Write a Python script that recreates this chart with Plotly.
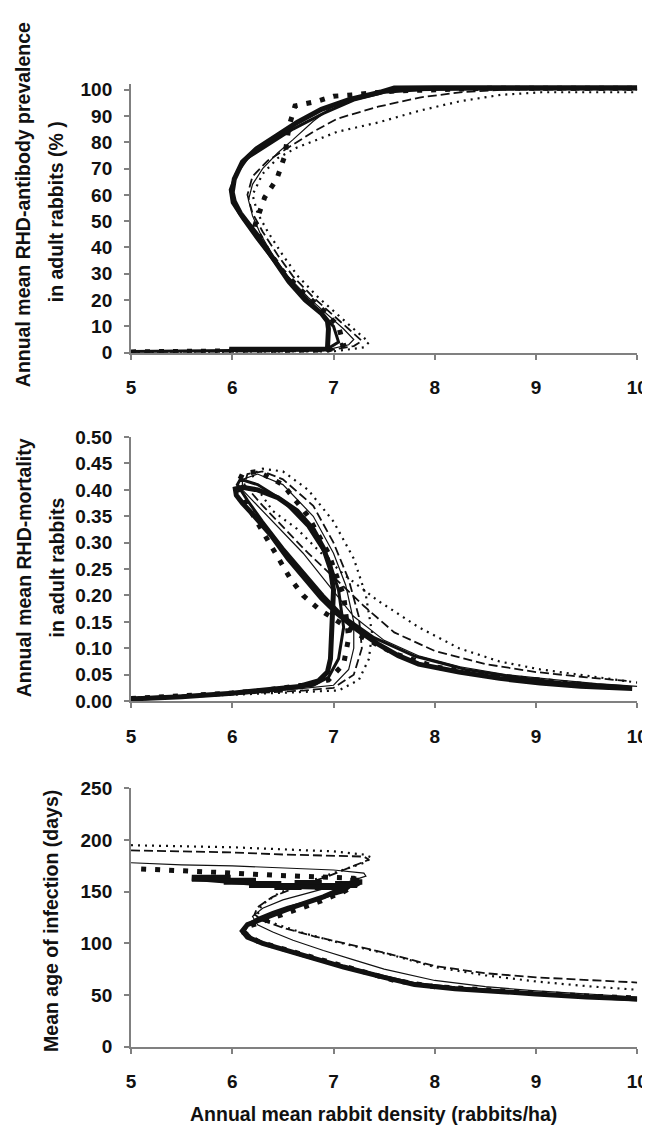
import plotly.graph_objects as go

# ---------------- Panel 1: RHD-antibody prevalence (%) ----------------
p1_thick_x = [5.97, 6.3, 6.6, 6.94, 6.95, 6.94, 6.88, 6.72, 6.56, 6.40, 6.24, 6.08, 6.02, 6.00, 6.02, 6.10, 6.24, 6.44, 6.64, 6.88, 7.16, 7.44, 7.60, 8.0, 9.0, 10.0]
p1_thick_y = [1.3, 1.4, 1.4, 1.4, 9, 12, 15, 20, 27, 36, 45, 53, 57.5, 61, 66, 72.5, 77.5, 82.5, 87.5, 92.5, 96.3, 98.8, 100.6, 100.7, 100.7, 100.7]
p1_thin_x = [5.0, 6.0, 6.9, 7.15, 7.2, 7.1, 6.95, 6.75, 6.55, 6.4, 6.28, 6.2, 6.16, 6.2, 6.3, 6.45, 6.6, 6.8, 7.0, 7.3, 7.6, 8.5, 10.0]
p1_thin_y = [0.3, 0.5, 0.8, 3, 5, 9, 14, 21, 29, 37, 45, 52, 58, 64, 70, 76, 81, 88, 94, 98, 99.5, 100, 100]
p1_dash_x = [5.0, 6.0, 6.9, 7.2, 7.28, 7.15, 7.0, 6.8, 6.6, 6.45, 6.3, 6.2, 6.15, 6.2, 6.35, 6.55, 6.8, 7.04, 7.44, 7.85, 8.25, 8.7, 10.0]
p1_dash_y = [0.2, 0.4, 0.5, 2.5, 4.5, 9, 14, 21, 29, 37, 46, 53, 60, 67, 73, 78, 84, 89, 93.5, 97, 99, 100, 100]
p1_dot_x = [5.0, 6.0, 7.0, 7.3, 7.35, 7.2, 7.05, 6.85, 6.65, 6.5, 6.35, 6.25, 6.2, 6.3, 6.45, 6.64, 7.04, 7.44, 7.85, 8.25, 8.65, 9.05, 10.0]
p1_dot_y = [0.2, 0.3, 0.5, 2, 4, 9, 14, 21, 29, 37, 46, 53, 60, 68, 74, 78, 84, 87.5, 92, 95.6, 98, 99, 99]
p1_sq_x = [5.0, 5.5, 6.0, 6.5, 6.95, 7.1, 7.05, 6.9, 6.7, 6.5, 6.35, 6.22, 6.32, 6.44, 6.52, 6.56, 6.62, 6.84, 7.0, 7.18, 7.6, 8.5, 10.0]
p1_sq_y = [0.3, 0.4, 0.5, 0.7, 1.0, 3, 10, 16, 23, 31, 39, 48, 59, 66, 75, 86, 93.8, 95.6, 97.5, 98, 99.5, 100.5, 100.5]
p1_med_x = [5.0, 6.0, 6.93, 7.05, 7.0, 6.85, 6.65, 6.45, 6.25, 6.1, 6.0, 5.98, 6.04, 6.15, 6.35, 6.6, 6.9, 7.2, 7.5, 8.0, 10.0]
p1_med_y = [0.4, 0.8, 1.2, 4, 10, 16, 24, 33, 43, 51, 57, 62, 68, 74, 79, 85, 91, 96, 99, 100.3, 100.3]

# ---------------- Panel 2: RHD-mortality ----------------
p2_thick_x = [5.0, 5.5, 6.0, 6.4, 6.64, 6.85, 6.94, 6.97, 6.98, 6.99, 7.0, 6.97, 6.9, 6.8, 6.64, 6.45, 6.25, 6.1, 6.03, 6.04, 6.1, 6.22, 6.38, 6.55, 6.72, 6.88, 7.04, 7.24, 7.44, 7.64, 7.84, 8.24, 8.64, 9.04, 9.44, 9.84, 9.95]
p2_thick_y = [0.004, 0.008, 0.015, 0.022, 0.027, 0.038, 0.055, 0.08, 0.12, 0.17, 0.21, 0.25, 0.29, 0.325, 0.36, 0.385, 0.40, 0.405, 0.402, 0.39, 0.375, 0.35, 0.315, 0.27, 0.23, 0.195, 0.165, 0.134, 0.108, 0.086, 0.07, 0.055, 0.043, 0.034, 0.028, 0.024, 0.024]
p2_thin_x = [5.0, 6.0, 6.7, 7.0, 7.15, 7.2, 7.2, 7.12, 7.0, 6.8, 6.5, 6.25, 6.1, 6.1, 6.25, 6.45, 6.7, 6.95, 7.2, 7.5, 7.85, 8.25, 8.7, 9.2, 9.6, 10.0]
p2_thin_y = [0.005, 0.014, 0.024, 0.03, 0.06, 0.1, 0.15, 0.22, 0.28, 0.35, 0.41, 0.43, 0.42, 0.40, 0.37, 0.33, 0.28, 0.22, 0.16, 0.115, 0.085, 0.065, 0.05, 0.04, 0.033, 0.028]
p2_dash_x = [5.0, 6.0, 6.7, 7.0, 7.2, 7.28, 7.25, 7.15, 7.0, 6.8, 6.5, 6.3, 6.15, 6.12, 6.3, 6.5, 6.75, 7.0, 7.3, 7.6, 8.0, 8.5, 9.0, 9.5, 9.9]
p2_dash_y = [0.006, 0.013, 0.02, 0.025, 0.05, 0.1, 0.16, 0.23, 0.30, 0.37, 0.42, 0.435, 0.43, 0.41, 0.37, 0.33, 0.28, 0.235, 0.18, 0.13, 0.095, 0.07, 0.055, 0.045, 0.038]
p2_dot_x = [5.0, 6.0, 7.05, 7.25, 7.35, 7.38, 7.32, 7.2, 7.0, 6.75, 6.5, 6.3, 6.2, 6.22, 6.4, 6.64, 6.88, 7.1, 7.44, 7.84, 8.24, 8.64, 9.04, 9.44, 10.0]
p2_dot_y = [0.006, 0.012, 0.02, 0.04, 0.08, 0.13, 0.20, 0.27, 0.34, 0.40, 0.435, 0.44, 0.43, 0.41, 0.36, 0.326, 0.28, 0.24, 0.19, 0.14, 0.10, 0.075, 0.06, 0.05, 0.035]
p2_sq_x = [5.0, 5.4, 5.9, 6.3, 6.7, 6.95, 7.1, 7.15, 7.1, 6.95, 6.75, 6.5, 6.25, 6.1, 6.05, 6.15, 6.3, 6.45, 6.58, 6.7, 6.85, 7.05, 7.3, 7.6, 8.0, 8.5, 9.0, 9.5, 9.8]
p2_sq_y = [0.005, 0.008, 0.014, 0.02, 0.03, 0.04, 0.07, 0.12, 0.20, 0.28, 0.35, 0.41, 0.435, 0.43, 0.41, 0.37, 0.32, 0.27, 0.23, 0.20, 0.175, 0.15, 0.12, 0.09, 0.065, 0.05, 0.04, 0.03, 0.025]
p2_med_x = [5.0, 5.8, 6.4, 6.8, 6.95, 7.05, 7.1, 7.05, 6.95, 6.75, 6.5, 6.25, 6.08, 6.05, 6.15, 6.3, 6.5, 6.7, 6.9, 7.1, 7.4, 7.8, 8.3, 8.8, 9.3, 9.9]
p2_med_y = [0.005, 0.012, 0.02, 0.03, 0.045, 0.08, 0.14, 0.21, 0.27, 0.33, 0.38, 0.41, 0.42, 0.41, 0.38, 0.34, 0.29, 0.245, 0.2, 0.16, 0.12, 0.085, 0.06, 0.045, 0.034, 0.027]

# ---------------- Panel 3: Mean age of infection (days) ----------------
p3_thick_x = [5.6, 6.2, 6.6, 7.0, 7.2, 7.25, 7.1, 6.9, 6.6, 6.35, 6.15, 6.1, 6.15, 6.3, 6.5, 6.8, 7.1, 7.5, 7.8, 8.2, 8.6, 9.0, 9.5, 10.0]
p3_thick_y = [163, 158, 155, 154, 157, 160, 153, 145, 135, 125, 118, 112, 106, 100, 94, 85, 77, 67, 60, 56, 54, 51, 48, 46]
p3_thin_x = [5.0, 5.5, 6.0, 6.5, 7.0, 7.3, 7.32, 7.1, 6.8, 6.5, 6.3, 6.2, 6.25, 6.4, 6.6, 6.9, 7.2, 7.5, 8.0, 8.5, 9.0, 9.5, 10.0]
p3_thin_y = [178, 176, 175, 173, 171, 168, 165, 158, 150, 142, 134, 126, 118, 111, 103, 93, 84, 75, 64, 58, 54, 51, 48]
p3_dash_x = [5.0, 5.5, 6.0, 6.5, 7.0, 7.3, 7.35, 7.2, 6.95, 6.65, 6.4, 6.25, 6.22, 6.3, 6.5, 6.8, 7.1, 7.5, 8.0, 8.5, 9.0, 9.5, 10.0]
p3_dash_y = [190, 189, 188, 186, 185, 184, 181, 175, 165, 155, 145, 135, 128, 122, 115, 107, 100, 91, 78, 71, 67, 64.5, 62]
p3_dot_x = [5.0, 5.5, 6.0, 6.5, 7.0, 7.3, 7.38, 7.3, 7.0, 6.7, 6.45, 6.3, 6.25, 6.3, 6.45, 6.7, 7.0, 7.3, 7.6, 8.0, 8.5, 9.0, 9.5, 10.0]
p3_dot_y = [195, 194, 193, 191, 189, 186, 183, 178, 168, 158, 148, 138, 130, 124, 118, 110, 102, 95, 88, 77, 69, 63, 58.5, 55]
p3_sq_x = [5.1, 5.4, 5.7, 6.0, 6.4, 6.8, 7.2, 7.28, 7.1, 6.85, 6.55, 6.3, 6.15, 6.12, 6.25, 6.45, 6.8, 7.2, 7.6, 8.0, 8.5, 9.0, 9.5, 10.0]
p3_sq_y = [172, 171, 170, 168, 166, 164, 163, 160, 150, 140, 130, 122, 116, 110, 102, 96, 86, 75, 64, 58, 55, 51, 49, 47]
p3_step_x = [5.6, 5.95, 6.2, 6.45, 6.65, 6.85, 7.05, 7.2, 7.25]
p3_step_y = [163, 160, 157, 155, 158, 155, 157, 160, 162]
p3_med_x = [7.25, 7.1, 6.95, 6.75, 6.55, 6.4, 6.25, 6.15, 6.12, 6.2, 6.4, 6.7, 7.0, 7.4, 7.8, 8.2, 8.6, 9.0, 9.5, 10.0]
p3_med_y = [162, 150, 146, 140, 135, 130, 124, 118, 112, 104, 97, 88, 80, 70, 61, 57, 54, 51, 48, 45]

# tick labels
x_ticks = [5, 6, 7, 8, 9, 10]
p1_ticks = [0, 10, 20, 30, 40, 50, 60, 70, 80, 90, 100]
p2_ticks = [0.00, 0.05, 0.10, 0.15, 0.20, 0.25, 0.30, 0.35, 0.40, 0.45, 0.50]
p3_ticks = [0, 50, 100, 150, 200, 250]

W, H = 650, 1131
FONT = "Liberation Sans, Arial, sans-serif"
AX_COL = "#808080"

styles = {
    "thick": dict(width=5, dash="solid", shape="linear"),
    "med": dict(width=3, dash="solid", shape="linear"),
    "thin": dict(width=1.2, dash="solid", shape="linear"),
    "dash": dict(width=1.8, dash="9px,4px", shape="linear"),
    "dot": dict(width=2.2, dash="2px,5px", shape="linear"),
    "sq": dict(width=5, dash="5px,9px", shape="linear"),
    "step": dict(width=7, dash="solid", shape="hv"),
}

panels = [
    {"series": [("dot", p1_dot_x, p1_dot_y), ("dash", p1_dash_x, p1_dash_y), ("thin", p1_thin_x, p1_thin_y),
                ("sq", p1_sq_x, p1_sq_y), ("med", p1_med_x, p1_med_y), ("thick", p1_thick_x, p1_thick_y)],
     "range": [0, 102], "top_val": 100, "top_px": 73, "bot_px": 341, "ticks": p1_ticks, "fmt": "d"},
    {"series": [("dot", p2_dot_x, p2_dot_y), ("dash", p2_dash_x, p2_dash_y), ("thin", p2_thin_x, p2_thin_y),
                ("sq", p2_sq_x, p2_sq_y), ("med", p2_med_x, p2_med_y), ("thick", p2_thick_x, p2_thick_y)],
     "range": [0, 0.5], "top_val": 0.5, "top_px": 427, "bot_px": 696, "ticks": p2_ticks, "fmt": ".2f"},
    {"series": [("dot", p3_dot_x, p3_dot_y), ("dash", p3_dash_x, p3_dash_y), ("thin", p3_thin_x, p3_thin_y),
                ("sq", p3_sq_x, p3_sq_y), ("step", p3_step_x, p3_step_y), ("med", p3_med_x, p3_med_y),
                ("thick", p3_thick_x, p3_thick_y)],
     "range": [0, 250], "top_val": 250, "top_px": 785, "bot_px": 1048, "ticks": p3_ticks, "fmt": "d"},
]

fig = go.Figure()
x_dom = [121 / W, 640 / W]

for i, p in enumerate(panels, start=1):
    xa = "x" if i == 1 else f"x{i}"
    ya = "y" if i == 1 else f"y{i}"
    for name, xs, ys in p["series"]:
        st = styles[name]
        fig.add_trace(go.Scatter(x=xs, y=ys, mode="lines", xaxis=xa, yaxis=ya,
                                 line=dict(color="#111111", width=st["width"], dash=st["dash"], shape=st["shape"]),
                                 showlegend=False, hoverinfo="skip"))
    ppu = (p["bot_px"] - p["top_px"]) / p["top_val"]
    top_px = p["bot_px"] - ppu * p["range"][1]
    y_dom = [1 - p["bot_px"] / H, 1 - top_px / H]
    axis_common = dict(showline=True, linecolor=AX_COL, linewidth=2, ticks="outside", tickcolor=AX_COL,
                       ticklen=5, tickwidth=2, showgrid=False, zeroline=False, ticklabeloverflow="allow",
                       tickfont=dict(family=FONT, size=19, color="#111111", weight="bold"))
    fig.layout[("xaxis" if i == 1 else f"xaxis{i}")] = dict(
        domain=x_dom, range=[5, 10], tickvals=x_ticks, anchor=ya, ticklabelstandoff=12, **axis_common)
    fig.layout[("yaxis" if i == 1 else f"yaxis{i}")] = dict(
        domain=y_dom, range=p["range"], tickvals=p["ticks"], tickformat=p["fmt"], anchor=xa,
        ticklabelstandoff=8, **axis_common)

title_font = dict(family=FONT, size=19.5, color="#111111", weight="bold")
annotations = [
    dict(text="Annual mean RHD-antibody prevalence", x=11 / W, y=1 - 190 / H),
    dict(text="in adult rabbits (% )", x=44 / W, y=1 - 197 / H),
    dict(text="Annual mean RHD-mortality", x=11 / W, y=1 - 560 / H),
    dict(text="in adult rabbits", x=45 / W, y=1 - 560 / H),
    dict(text="Mean age of infection (days)", x=39 / W, y=1 - 920 / H),
]
for a in annotations:
    fig.add_annotation(xref="paper", yref="paper", showarrow=False, textangle=-90,
                       xanchor="center", yanchor="middle", font=title_font, **a)
fig.add_annotation(text="Annual mean rabbit density (rabbits/ha)", xref="paper", yref="paper",
                   x=370 / W, y=1 - 1117 / H, showarrow=False, xanchor="center", yanchor="middle",
                   font=title_font)

fig.update_layout(width=W, height=H, margin=dict(l=0, r=0, t=0, b=0),
                  paper_bgcolor="white", plot_bgcolor="white")
fig.write_html("out.html")
